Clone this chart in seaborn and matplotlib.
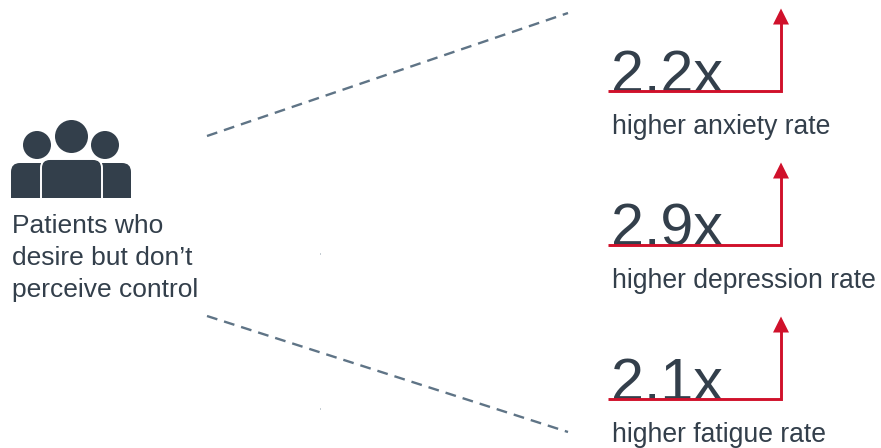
import pandas as pd
import seaborn as sns
import matplotlib.pyplot as plt
from matplotlib.patches import Circle, FancyBboxPatch, Polygon, Rectangle

# --- Data ---
multipliers = ["2.2x", "2.9x", "2.1x"]
outcomes = ["higher anxiety rate", "higher depression rate", "higher fatigue rate"]
patient_lines = ["Patients who", "desire but don\u2019t", "perceive control"]

# dashed connectors, in image pixels
connector_x = [207, 568]
connector_top_y = [136, 13]
connector_bottom_y = [316, 432]

# y of the red baseline in each block
baseline_y = [91.5, 245.5, 399.5]

DARK = "#333f4b"
SLATE = "#5f7486"
RED = "#d0112b"

sns.set_theme(style="white")
plt.rcParams["font.family"] = ["Liberation Sans", "DejaVu Sans"]

fig, ax = plt.subplots(figsize=(8.81, 4.48), dpi=100)
ax.set_position([0, 0, 1, 1])

# --- Dashed connectors ---
for ys in (connector_top_y, connector_bottom_y):
    df = pd.DataFrame({"x": connector_x, "y": ys})
    sns.lineplot(data=df, x="x", y="y", ax=ax, color=SLATE, linewidth=1.7,
                 dashes=(4.6, 2.98), sort=False, errorbar=None)

# tiny specks left over in the middle
for y in (253, 408):
    ax.plot([320, 320], [y, y + 1.5], color=SLATE, lw=0.5, alpha=0.7)

# --- People icon ---
ax.add_patch(Circle((37, 145), 14, fc=DARK, ec="none"))
ax.add_patch(Circle((105, 145), 14, fc=DARK, ec="none"))
ax.add_patch(Circle((71.5, 136.5), 16.5, fc=DARK, ec="none"))

ax.add_patch(FancyBboxPatch((11, 163), 120, 50, boxstyle="round,pad=0,rounding_size=9",
                            fc=DARK, ec="none"))
ax.add_patch(FancyBboxPatch((41, 159), 61, 54, boxstyle="round,pad=0,rounding_size=9",
                            fc=DARK, ec="white", lw=1.4, zorder=3))
# crop the bodies flat at the bottom
ax.add_patch(Rectangle((5, 198), 135, 20, fc="white", ec="none", zorder=4))

for i, line in enumerate(patient_lines):
    ax.text(12, 226 + 32 * i, line, fontsize=19, color=DARK, va="center", ha="left", zorder=5)

# --- Multiplier blocks ---
for mult, outcome, y in zip(multipliers, outcomes, baseline_y):
    ax.text(611, y + 0.5, mult, fontsize=42.7, color=DARK, va="baseline", ha="left", zorder=2)
    ax.plot([608, 781, 781], [y, y, y - 68], color=RED, lw=2.1, solid_joinstyle="miter",
            solid_capstyle="butt", zorder=3)
    ax.add_patch(Polygon([(773, y - 67), (789, y - 67), (781, y - 83)], closed=True, fc=RED, ec="none", zorder=3))
    ax.text(612, y + 35, outcome, fontsize=19.1, color=DARK, va="center", ha="left")

ax.set_xlim(0, 881)
ax.set_ylim(448, 0)
ax.set_xlabel("")
ax.set_ylabel("")
ax.axis("off")

fig.savefig("out.png", dpi=100)
plt.close(fig)
